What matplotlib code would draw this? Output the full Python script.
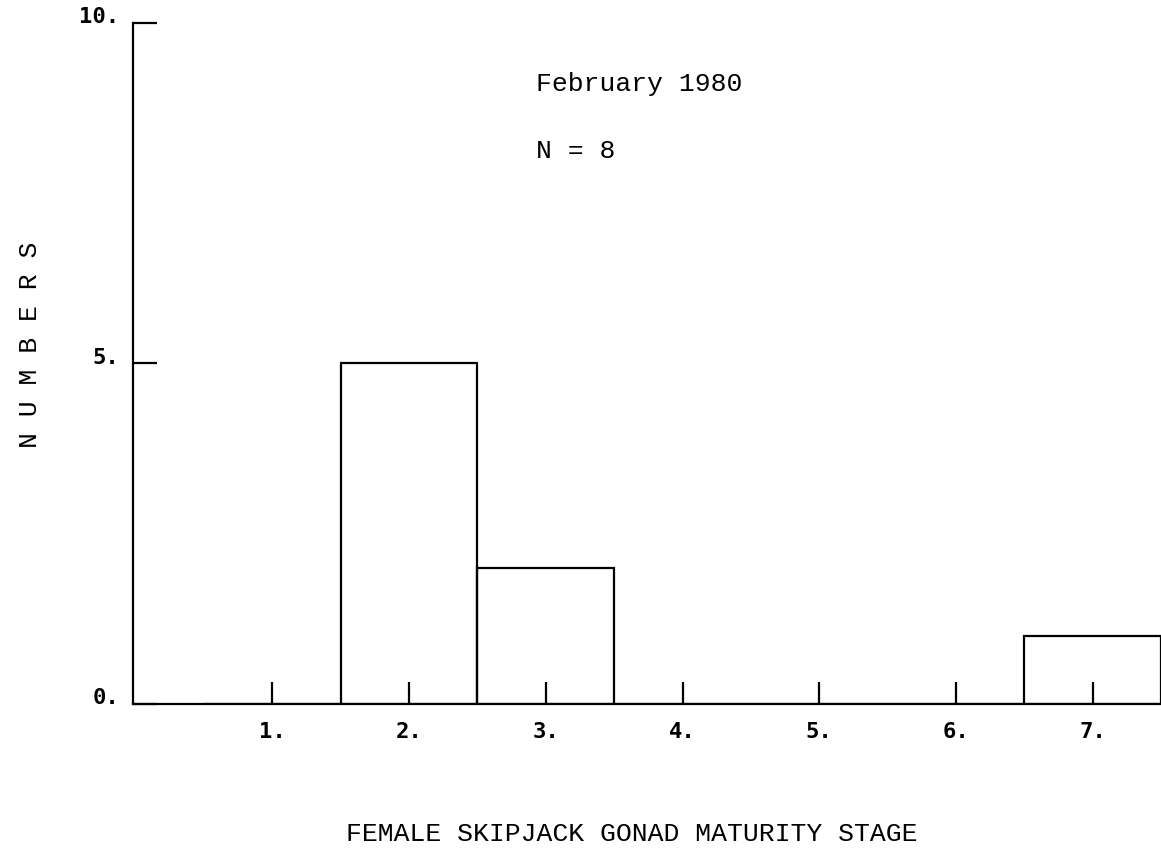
import numpy as np
import matplotlib.pyplot as plt

# maturity stages and counts of fish
stages = [1, 2, 3, 4, 5, 6, 7]
counts = [0, 5, 2, 0, 0, 0, 1]
stage_labels = ['1.', '2.', '3.', '4.', '5.', '6.', '7.']
y_ticks = [0, 5, 10]
y_labels = ['0.', '5.', '10.']

mono = 'Liberation Mono'
plot_font = 'DejaVu Sans Mono'

fig = plt.figure(figsize=(11.61, 8.52), dpi=100)
ax = fig.add_axes([133 / 1161, 1 - 704 / 852, 1 - 133 / 1161, (704 - 23) / 852])

ax.bar(stages, counts, width=1.0, fill=False, edgecolor='black', linewidth=1.6)

ax.set_xlim(-0.02, 7.5)
ax.set_ylim(0, 10)
for side in ['top', 'right']:
    ax.spines[side].set_visible(False)
ax.spines['left'].set_linewidth(1.6)
ax.spines['bottom'].set_linewidth(1.6)

ax.set_xticks(stages)
ax.set_xticklabels(stage_labels, fontfamily=plot_font, fontsize=16, fontweight='bold')
ax.set_yticks(y_ticks)
ax.set_yticklabels(y_labels, fontfamily=plot_font, fontsize=16, fontweight='bold',
                   va='baseline')
ax.tick_params(axis='x', direction='in', length=16, width=1.6, pad=13)
ax.tick_params(axis='y', direction='in', length=17, width=1.6, pad=10)

ax.text(2.93, 9.1, 'February 1980', fontfamily=mono, fontsize=19, va='center')
ax.text(2.93, 8.12, 'N = 8', fontfamily=mono, fontsize=19, va='center')

fig.text(30 / 1161, 1 - 345 / 852, 'N U M B E R S', rotation=90,
         fontfamily=mono, fontsize=19, ha='center', va='center')
fig.text(632 / 1161, 1 - 834 / 852, 'FEMALE SKIPJACK GONAD MATURITY STAGE',
         fontfamily=mono, fontsize=19, ha='center', va='center')

fig.savefig('out.png', dpi=100)
